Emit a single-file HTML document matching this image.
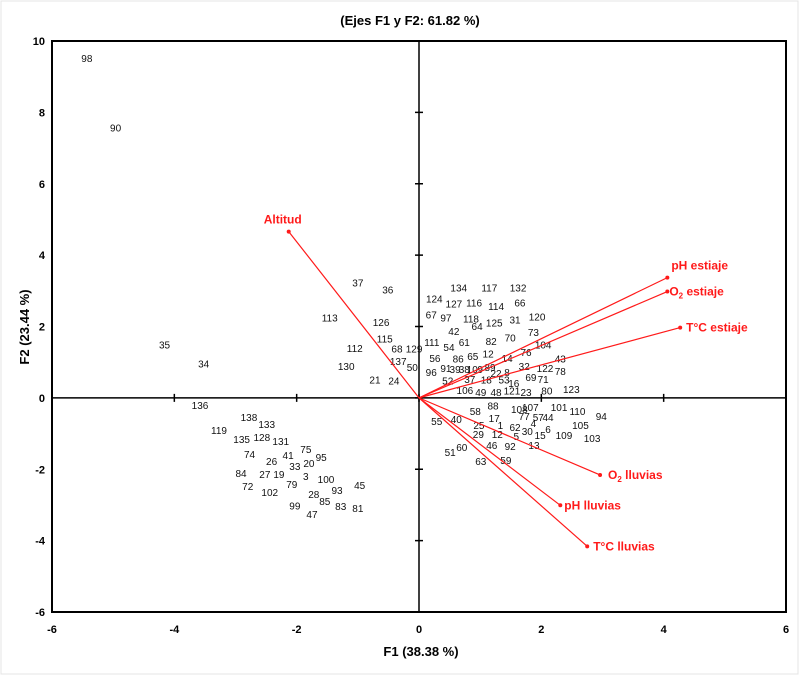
<!DOCTYPE html>
<html><head><meta charset="utf-8"><style>
html,body{margin:0;padding:0;background:#fff;}
#wrap{position:relative;width:800px;height:676px;overflow:hidden;}
svg{position:absolute;left:0;top:0;font-family:"Liberation Sans",Arial,sans-serif;}
</style></head><body>
<div id="wrap">
<svg id="chart" width="800" height="676" viewBox="0 0 800 676">
<rect x="1" y="1" width="797" height="673" fill="none" stroke="#e4e4e4" stroke-width="1"/>
<text x="410" y="25" text-anchor="middle" font-size="13" font-weight="bold">(Ejes F1 y F2: 61.82 %)</text>
<text x="421" y="656" text-anchor="middle" font-size="13" font-weight="bold">F1 (38.38 %)</text>
<text transform="translate(29,327) rotate(-90)" text-anchor="middle" font-size="13" font-weight="bold">F2 (23.44 %)</text>
<g id="axes"></g><g id="obs"></g><g id="vecs"></g>
</svg></div>
<script>
const xTicks=[-6,-4,-2,0,2,4,6];
const yTicks=[-6,-4,-2,0,2,4,6,8,10];
const obsLabels=["98","90","35","34","37","36","113","126","112","115","68","129","130","137","50","21","24","134","117","132","124","127","116","114","66","67","97","118","125","31","120","42","64","61","82","70","73","111","54","104","56","86","65","12","14","76","43","96","91","39","38","10","9","89","22","8","32","122","78","52","37","18","53","16","69","71","106","49","48","121","23","80","123","88","17","108","107","101","110","94","58","55","40","77","57","44","4","1","62","105","25","30","6","15","109","103","29","12","5","46","92","13","60","51","63","59","136","138","133","119","135","128","131","74","75","41","26","33","20","95","84","27","19","3","100","45","79","72","102","93","28","99","85","83","81","47"];
const obsF1=[-5.43,-4.96,-4.16,-3.52,-1.00,-0.51,-1.46,-0.62,-1.05,-0.56,-0.36,-0.08,-1.19,-0.34,-0.11,-0.72,-0.41,0.65,1.15,1.62,0.25,0.57,0.90,1.26,1.65,0.20,0.44,0.85,1.23,1.57,1.93,0.57,0.95,0.74,1.18,1.49,1.87,0.21,0.49,2.03,0.26,0.64,0.88,1.13,1.44,1.75,2.31,0.20,0.44,0.59,0.74,0.87,1.00,1.16,1.26,1.44,1.72,2.06,2.31,0.47,0.83,1.10,1.39,1.55,1.83,2.03,0.75,1.01,1.26,1.52,1.75,2.09,2.49,1.21,1.23,1.64,1.82,2.29,2.59,2.98,0.92,0.29,0.61,1.72,1.95,2.11,1.87,1.33,1.57,2.64,0.98,1.77,2.11,1.98,2.37,2.83,0.97,1.28,1.59,1.19,1.49,1.88,0.70,0.51,1.01,1.42,-3.58,-2.78,-2.49,-3.27,-2.90,-2.57,-2.26,-2.77,-1.85,-2.14,-2.41,-2.03,-1.80,-1.60,-2.91,-2.52,-2.29,-1.85,-1.52,-0.97,-2.08,-2.80,-2.44,-1.34,-1.72,-2.03,-1.54,-1.28,-1.00,-1.75];
const obsF2=[9.52,7.58,1.49,0.96,3.23,3.03,2.25,2.13,1.40,1.66,1.38,1.38,0.90,1.04,0.87,0.51,0.48,3.09,3.09,3.09,2.78,2.64,2.67,2.58,2.67,2.33,2.25,2.22,2.11,2.19,2.28,1.88,2.02,1.57,1.60,1.69,1.85,1.57,1.43,1.49,1.12,1.10,1.18,1.24,1.12,1.29,1.10,0.73,0.84,0.81,0.81,0.81,0.81,0.87,0.70,0.73,0.90,0.84,0.76,0.48,0.53,0.51,0.51,0.42,0.59,0.53,0.22,0.17,0.17,0.20,0.17,0.20,0.25,-0.22,-0.56,-0.31,-0.25,-0.25,-0.37,-0.51,-0.37,-0.65,-0.59,-0.51,-0.53,-0.53,-0.70,-0.76,-0.81,-0.76,-0.76,-0.93,-0.87,-1.04,-1.04,-1.12,-1.01,-1.01,-1.07,-1.32,-1.35,-1.32,-1.38,-1.52,-1.77,-1.74,-0.20,-0.53,-0.73,-0.90,-1.15,-1.10,-1.21,-1.57,-1.43,-1.60,-1.77,-1.91,-1.83,-1.66,-2.11,-2.13,-2.13,-2.19,-2.28,-2.44,-2.42,-2.47,-2.64,-2.58,-2.70,-3.01,-2.89,-3.03,-3.09,-3.26];
const varNames=["Altitud","pH estiaje","O2 estiaje","T°C estiaje","O2 lluvias","pH lluvias","T°C lluvias"];
const varF1=[-2.13,4.06,4.06,4.27,2.96,2.31,2.75];
const varF2=[4.66,3.37,2.98,1.97,-2.16,-3.01,-4.16];

const L=52,R=786,T=41,B=612;
const sx=v=>L+(v+6)/12*(R-L);
const sy=v=>B-(v+6)/16*(B-T);
const NS="http://www.w3.org/2000/svg";
function mk(tag,attrs,parent,txt){const e=document.createElementNS(NS,tag);for(const k in attrs)e.setAttribute(k,attrs[k]);if(txt!==undefined)e.textContent=txt;parent.appendChild(e);return e;}
const ax=document.getElementById('axes');
let fr=mk('rect',{x:L,y:T,width:R-L,height:B-T,fill:'none',stroke:'#000','stroke-width':2},ax);


let zx=mk('line',{x1:L,x2:R,y1:sy(0),y2:sy(0),stroke:'#000','stroke-width':1.5},ax);


let zy=mk('line',{x1:sx(0),x2:sx(0),y1:T,y2:B,stroke:'#000','stroke-width':1.5},ax);


xTicks.forEach(t=>{
  const x=sx(t);
  mk('line',{x1:x,x2:x,y1:sy(0)-4,y2:sy(0)+4,stroke:'#000','stroke-width':1.5},ax);
  const tl=mk('text',{x:x,y:B+21,'text-anchor':'middle','font-size':11,'font-weight':'bold'},ax,String(t));
  
  
});
yTicks.forEach(t=>{
  const y=sy(t);
  mk('line',{x1:sx(0)-4,x2:sx(0)+4,y1:y,y2:y,stroke:'#000','stroke-width':1.5},ax);
  const tl=mk('text',{x:45,y:y+4,'text-anchor':'end','font-size':11,'font-weight':'bold'},ax,String(t));
  
  
});
const og=document.getElementById('obs');
obsLabels.forEach((lab,i)=>{
  const t=mk('text',{x:sx(obsF1[i]),y:sy(obsF2[i])+4,'text-anchor':'middle','font-size':10,fill:'#111'},og,lab);
  
  
});
const vg=document.getElementById('vecs');
const offs=[[-6,-8,'middle'],[4,-8,'start'],[2,4,'start'],[6,4,'start'],[8,4,'start'],[4,4,'start'],[6,4,'start']];
varNames.forEach((n,i)=>{
  const x=sx(varF1[i]),y=sy(varF2[i]);
  const ln=mk('line',{x1:sx(0),y1:sy(0),x2:x,y2:y,stroke:'#ff1a1a','stroke-width':1.2},vg);
  
  
  mk('circle',{cx:x,cy:y,r:2,fill:'#ff1a1a'},vg);
  const o=offs[i];
  const t=mk('text',{x:x+o[0],y:y+o[1],'text-anchor':o[2],'font-size':12,'font-weight':'bold',fill:'#ff1a1a'},vg);
  
  
  if(n.startsWith('O2')){
    mk('tspan',{},t,'O');
    mk('tspan',{'font-size':8,dy:3},t,'2');
    mk('tspan',{dy:-3},t,n.slice(2));
  } else t.textContent=n;
});
</script>
</body></html>
